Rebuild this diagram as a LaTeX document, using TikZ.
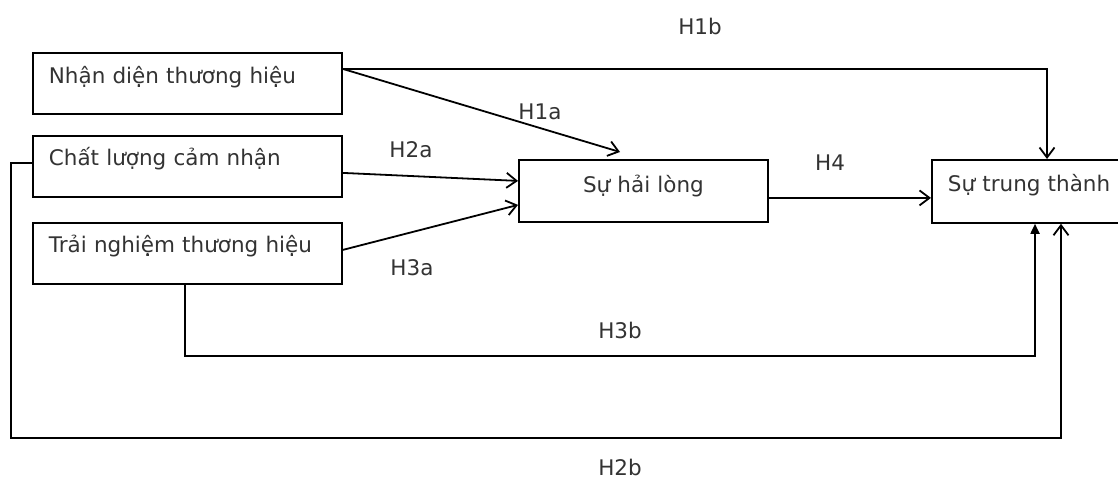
\documentclass[tikz,border=0pt]{standalone}
\usepackage{fontspec}
\setmainfont{DejaVu Sans}
\usetikzlibrary{arrows.meta}
\begin{document}
\begin{tikzpicture}[x=1pt,y=-1pt,
  line width=1.8pt,
  txt/.style={font=\fontsize{21.5}{26}\selectfont, text=black!80},
  box/.style={draw, txt, anchor=north west, inner xsep=16pt, inner ysep=0pt, align=left},
  lbl/.style={txt, inner sep=0pt},
  arr/.style={-{Straight Barb[length=10pt,width=15pt]}},
  farr/.style={-{Triangle[length=10pt,width=9pt]}}]
\useasboundingbox (0,0) rectangle (1118,480);
\clip (0,0) rectangle (1118,480);
% boxes
\node[box, minimum width=309pt, minimum height=61pt, text width=277pt, text height=15.5pt, text depth=14.5pt] (A) at (32,52) {Nhận diện thương hiệu};
\node[box, minimum width=309pt, minimum height=61pt, text width=277pt, text height=14.5pt, text depth=15.5pt] (B) at (32,135) {Chất lượng cảm nhận};
\node[box, minimum width=309pt, minimum height=61pt, text width=277pt, text height=14.5pt, text depth=15.5pt] (C) at (32,222) {Trải nghiệm thương hiệu};
\node[box, align=center, minimum width=249pt, minimum height=62pt, text width=217pt, text height=17pt, text depth=13pt] (D) at (518,159) {Sự hải lòng};
\node[box, minimum width=200pt, minimum height=63pt, text width=168pt, text height=15.5pt, text depth=15.5pt] (E) at (931,159) {Sự trung thành};
% connectors
\draw[arr] ([yshift=14.5pt]A.east) -| ([xshift=116pt]E.north west);
\draw[arr] ([yshift=14.5pt]A.east) -- ([xshift=102pt,yshift=7pt]D.north west);
\draw[arr] ([yshift=-6.5pt]B.east) -- ([yshift=10pt]D.west);
\draw[arr] ([yshift=3.5pt]C.east) -- ([yshift=-14pt]D.west);
\draw[arr] ([yshift=-7pt]D.east) -- ([yshift=-7pt]D.east -| E.west);
\draw[arr] ([yshift=3.5pt]B.west) -- ++(-21,0) -- ++(0,275) -| ([xshift=130pt]E.south west);
\draw[farr] ([xshift=153pt]C.south west) -- ++(0,71) -| ([xshift=104pt]E.south west);
% labels
\node[lbl] (h1b) at (700,26) {H1b};
\node[lbl] (h1a) at (540,112) {H1a};
\node[lbl] (h2a) at (411,150) {H2a};
\node[lbl] (h3a) at (412,268) {H3a};
\node[lbl] (h4) at (830,163) {H4};
\node[lbl] (h3b) at (620,330) {H3b};
\node[lbl] (h2b) at (620,467) {H2b};
\end{tikzpicture}
\end{document}
